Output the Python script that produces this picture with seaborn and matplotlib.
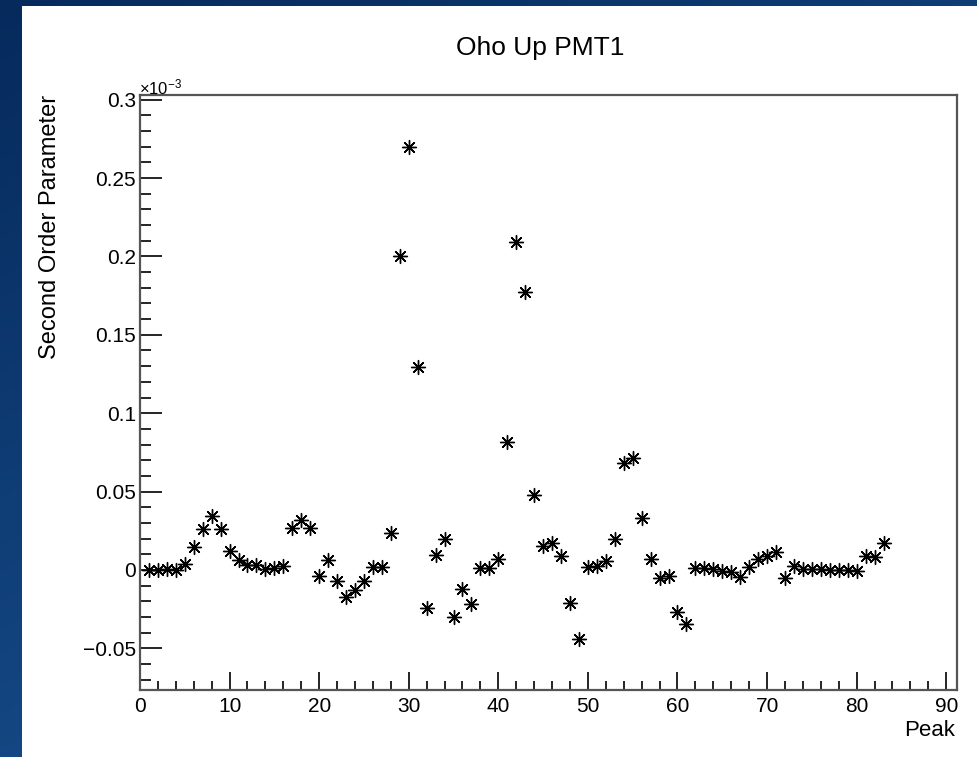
import numpy as np
import matplotlib
matplotlib.use('Agg')
import matplotlib.pyplot as plt
from matplotlib.colors import LinearSegmentedColormap
from matplotlib.patches import Rectangle
from matplotlib.ticker import MultipleLocator
import seaborn as sns

# values are in units of 1e-3
peaks = list(range(1, 84))
second_order = [
    0.0, 0.0, 0.0005, 0.0, 0.004, 0.0147, 0.026, 0.0345, 0.026, 0.012,
    0.0065, 0.003, 0.003, 0.0005, 0.001, 0.0025, 0.0265, 0.032, 0.027, -0.004,
    0.0063, -0.0072, -0.0173, -0.013, -0.0068, 0.0017, 0.0017, 0.0238, 0.2, 0.27,
    0.1295, -0.0243, 0.0095, 0.0196, -0.030, -0.0124, -0.0215, 0.001, 0.001, 0.007,
    0.0815, 0.2095, 0.177, 0.048, 0.0154, 0.0175, 0.0087, -0.0209, -0.0443, 0.0017,
    0.0023, 0.0059, 0.0196, 0.0681, 0.0713, 0.0333, 0.007, -0.0053, -0.0036, -0.0268,
    -0.0346, 0.001, 0.001, 0.0006, -0.0004, -0.0015, -0.0046, 0.0017, 0.007, 0.0087,
    0.0116, -0.005, 0.0027, 0.0006, 0.0006, 0.0004, 0.0002, 0.0002, 0.0002, -0.0004,
    0.0087, 0.0081, 0.0171,
]
ytick_vals = [-0.05, 0, 0.05, 0.1, 0.15, 0.2, 0.25, 0.3]
ytick_text = ['\u22120.05', '0', '0.05', '0.1', '0.15', '0.2', '0.25', '0.3']

sns.set_style('white')
plt.rcParams['font.family'] = ['Liberation Sans', 'DejaVu Sans']
plt.rcParams['text.color'] = 'black'
plt.rcParams['mathtext.fontset'] = 'custom'
plt.rcParams['mathtext.rm'] = 'Liberation Sans'

fig = plt.figure(figsize=(9.78, 7.57), dpi=100)

# slide background: blue gradient with a white panel
bg = fig.add_axes([0, 0, 1, 1])
bg.axis('off')
gx, gy = np.meshgrid(np.linspace(0, 1, 200), np.linspace(0, 1, 200))
grad = 0.6 * gy + 0.4 * (1 - gx)
cmap = LinearSegmentedColormap.from_list('slide', ['#1d5a9c', '#062a5c'])
bg.imshow(grad, cmap=cmap, aspect='auto', extent=[0, 1, 0, 1], origin='lower')
bg.add_patch(Rectangle((22 / 978, 0), 1, (757 - 6) / 757, color='white', lw=0))
bg.set_xlim(0, 1)
bg.set_ylim(0, 1)

ax = fig.add_axes([140 / 978, (757 - 690) / 757, (957 - 140) / 978, (690 - 95) / 757])
sns.scatterplot(x=peaks, y=second_order, ax=ax, marker=(8, 2, 0), s=100,
                color='black', linewidth=1.0)

ax.set_xlim(0, 91.2)
ax.set_ylim(-0.0766, 0.303)
ax.xaxis.set_major_locator(MultipleLocator(10))
ax.xaxis.set_minor_locator(MultipleLocator(2))
ax.yaxis.set_minor_locator(MultipleLocator(0.01))
ax.set_yticks(ytick_vals)
ax.set_yticklabels(ytick_text)
ax.tick_params(axis='both', which='both', direction='in', labelsize=15,
               colors='black', bottom=True, left=True, top=False, right=False)
ax.tick_params(axis='x', which='major', length=13, width=1.2, pad=5)
ax.tick_params(axis='x', which='minor', length=6.5, width=1.2)
ax.tick_params(axis='y', which='major', length=16, width=1.2, pad=3)
ax.tick_params(axis='y', which='minor', length=8, width=1.2)
for sp in ax.spines.values():
    sp.set_color('#555555')
    sp.set_linewidth(1.6)

fig.text(540 / 978, (757 - 48) / 757, 'Oho Up PMT1', ha='center', va='center', fontsize=19)
fig.text(50 / 978, (757 - 95) / 757, 'Second Order Parameter', rotation=90,
         ha='center', va='top', fontsize=17)
fig.text(955 / 978, (757 - 731) / 757, 'Peak', ha='right', va='center', fontsize=16)
fig.text(139 / 978, (757 - 97) / 757, r'$\mathregular{\times10^{-3}}$', ha='left', va='bottom', fontsize=12)

fig.savefig('out.png', dpi=100)
